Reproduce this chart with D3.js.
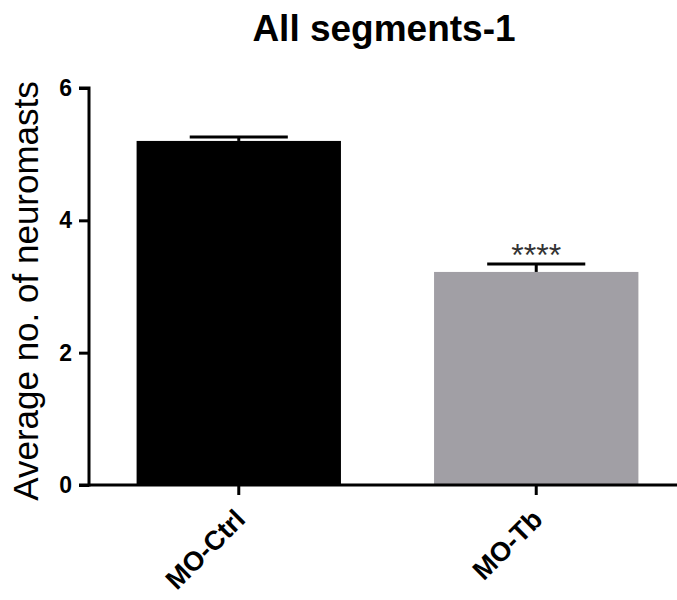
<!DOCTYPE html>
<html>
<head>
<meta charset="utf-8">
<script src="https://cdn.jsdelivr.net/npm/d3@7"></script>
<style>
body { margin: 0; background: #fff; }
text { font-family: "Liberation Sans", Arial, sans-serif; }
</style>
</head>
<body>
<svg class="main" width="677" height="600"></svg>
<script>
var groups = ["MO-Ctrl", "MO-Tb"];
var means = [5.2, 3.22];
var errors = [0.06, 0.12];
var colors = ["#000000", "#a19fa5"];
var stars = ["", "****"];
var yTicks = [0, 2, 4, 6];

var svg = d3.select("svg.main");

var y = d3.scaleLinear().domain([0, 6]).range([485, 88]);
var x = d3.scaleBand().domain(groups).range([89, 686])
    .paddingInner(0.313).paddingOuter(0.16);

// bars
svg.selectAll("rect.bar").data(groups).enter().append("rect")
    .attr("class", "bar")
    .attr("x", d => x(d))
    .attr("width", x.bandwidth())
    .attr("y", (d, i) => y(means[i]))
    .attr("height", (d, i) => y(0) - y(means[i]))
    .attr("fill", (d, i) => colors[i]);

// error bars (upper only)
var capw = x.bandwidth() * 0.48;
groups.forEach(function (g, i) {
    var cx = x(g) + x.bandwidth() / 2;
    var top = y(means[i] + errors[i]);
    svg.append("line")
        .attr("x1", cx).attr("x2", cx)
        .attr("y1", y(means[i])).attr("y2", top)
        .attr("stroke", "#000").attr("stroke-width", 3);
    svg.append("line")
        .attr("x1", cx - capw / 2).attr("x2", cx + capw / 2)
        .attr("y1", top).attr("y2", top)
        .attr("stroke", "#000").attr("stroke-width", 3);
    if (stars[i]) {
        svg.append("text")
            .attr("x", cx).attr("y", top + 2)
            .attr("text-anchor", "middle")
            .attr("font-size", 32)
            .attr("fill", "#333")
            .text(stars[i]);
    }
});

// y axis
var yAxis = svg.append("g")
    .attr("transform", "translate(89,0)")
    .call(d3.axisLeft(y).tickValues(yTicks).tickSize(10).tickPadding(7).tickFormat(d3.format("d")));
yAxis.select(".domain").attr("stroke-width", 3).attr("d", "M-10," + y(6) + "H0V" + y(0) + "H-10");
yAxis.selectAll(".tick line").attr("stroke-width", 3);
yAxis.selectAll(".tick text").attr("font-size", 23).attr("font-weight", "bold").attr("fill", "#000");

// x axis
var xAxis = svg.append("g")
    .attr("transform", "translate(0," + y(0) + ")")
    .call(d3.axisBottom(x).tickSize(10).tickSizeOuter(0));
xAxis.select(".domain").attr("stroke-width", 3).attr("d", "M89,0H686");
xAxis.selectAll(".tick line").attr("stroke-width", 3);
xAxis.selectAll(".tick text")
    .attr("font-size", 27).attr("font-weight", "bold").attr("fill", "#000")
    .attr("text-anchor", "end")
    .attr("x", 0).attr("y", 0).attr("dy", 0)
    .attr("transform", "translate(8,36) rotate(-45)");

// titles
svg.append("text")
    .attr("x", 384).attr("y", 41)
    .attr("text-anchor", "middle")
    .attr("font-size", 37).attr("font-weight", "bold")
    .text("All segments-1");

svg.append("text")
    .attr("transform", "translate(38,291) rotate(-90)")
    .attr("text-anchor", "middle")
    .attr("font-size", 35)
    .text("Average no. of neuromasts");
</script>
</body>
</html>
